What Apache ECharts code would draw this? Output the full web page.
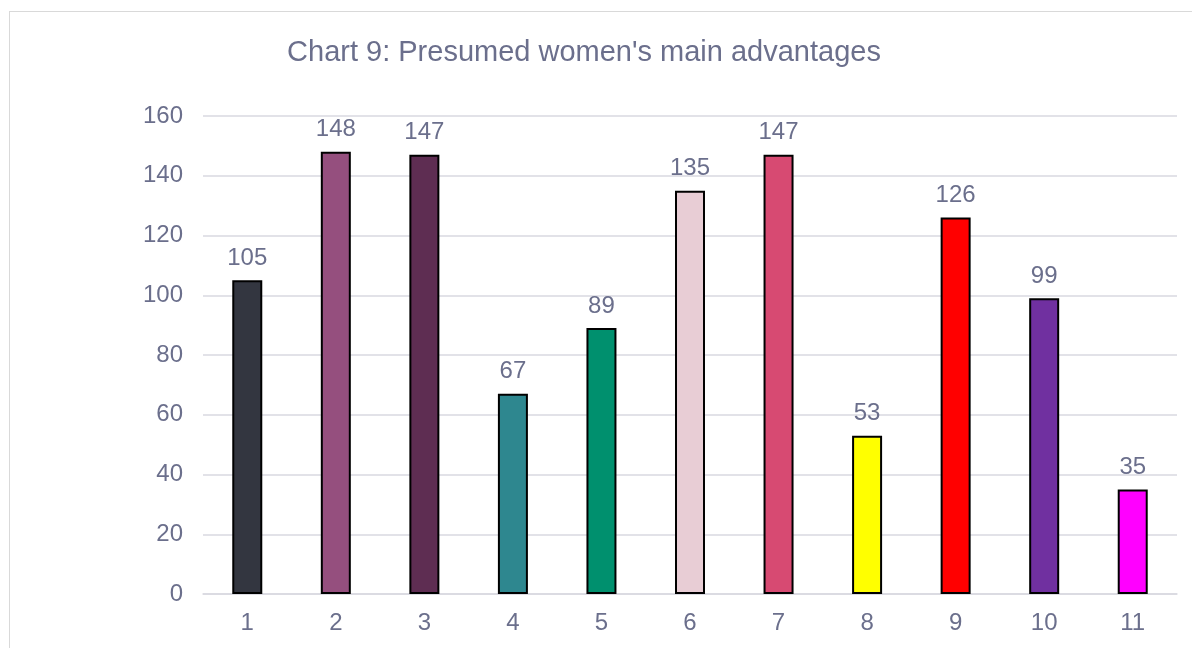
<!DOCTYPE html>
<html>
<head>
<meta charset="utf-8">
<script src="https://cdn.jsdelivr.net/npm/echarts@6/dist/echarts.min.js"></script>
<style>
  html, body { margin: 0; padding: 0; background: #ffffff; }
  #frame { position: absolute; left: 9px; top: 11px; width: 1190px; height: 650px; border: 1px solid #d9d9d9; box-sizing: border-box; }
  #chart { position: absolute; left: 0; top: 0; width: 1192px; height: 648px; }
</style>
</head>
<body>
<div id="frame"></div>
<div id="chart"></div>
<script>
// Survey counts per advantage number
const categories = ['1', '2', '3', '4', '5', '6', '7', '8', '9', '10', '11'];
const counts = [105, 148, 147, 67, 89, 135, 147, 53, 126, 99, 35];
const barColors = ['#333640', '#954f7e', '#5e2d52', '#2e878f', '#00906e', '#e8cdd5', '#d74a72', '#ffff00', '#ff0000', '#7030a0', '#ff00ff'];

const textColor = '#6b6f8c';
const chart = echarts.init(document.getElementById('chart'), null, { renderer: 'canvas' });
chart.setOption({
  animation: false,
  textStyle: { fontFamily: 'Liberation Sans, Arial, sans-serif' },
  title: {
    text: "Chart 9: Presumed women's main advantages",
    left: 579, top: 33, textAlign: 'center',
    textStyle: { color: textColor, fontSize: 29, fontWeight: 'normal', fontFamily: 'Liberation Sans, Arial, sans-serif' }
  },
  grid: { left: 203, right: 15, top: 116, bottom: 54, containLabel: false },
  xAxis: {
    type: 'category',
    data: categories,
    axisTick: { show: false },
    axisLine: { lineStyle: { color: '#d9d9e0', width: 1.5 } },
    axisLabel: { color: textColor, fontSize: 24, margin: 17 }
  },
  yAxis: {
    type: 'value',
    min: 0, max: 160, interval: 20,
    axisLine: { show: false },
    axisTick: { show: false },
    splitLine: { lineStyle: { color: '#d9d9e0', width: 1.5 } },
    axisLabel: { color: textColor, fontSize: 24, margin: 20 }
  },
  series: [{
    type: 'bar',
    barWidth: 30,
    data: counts.map((v, i) => ({ value: v, itemStyle: { color: barColors[i] } })),
    itemStyle: { borderColor: '#000000', borderWidth: 2 },
    label: { show: true, position: 'top', distance: 10, color: textColor, fontSize: 24 }
  }]
});
</script>
</body>
</html>
